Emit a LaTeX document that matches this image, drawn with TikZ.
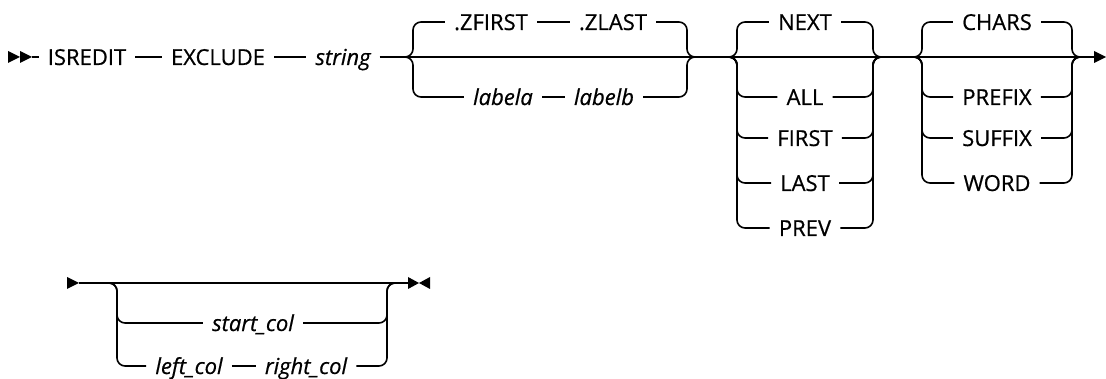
\documentclass[tikz,border=0pt]{standalone}
\usepackage{fontspec}
\newfontfamily\railfont[FakeBold=0.6]{Open Sans}
\tikzset{
  kw/.style={font=\railfont\fontsize{22}{26}\selectfont, inner xsep=9pt, inner ysep=0pt, text height=16pt, text depth=0pt},
  var/.style={kw, font=\railfont\itshape\fontsize{22}{26}\selectfont},
  rail/.style={line width=1.6pt, rounded corners=8pt}
}
\begin{document}
\begin{tikzpicture}[x=1pt,y=-1pt]
\useasboundingbox (0,0) rectangle (1106,379);
% first row
\foreach \x in {8,20}{\fill (\x,51) -- ++(12,6) -- ++(-12,6) -- cycle;}
\coordinate (r1in) at (32,57);
\coordinate (r1out) at (1094,57);
\fill (r1out) ++(0,-6) -- ++(12,6) -- ++(-12,6) -- cycle;
\node[kw] (isredit) at (87,57) {ISREDIT};
\node[kw] (exclude) at (218,57) {EXCLUDE};
\node[var] (string) at (343,57) {string};
\draw[rail] (r1in) -- (isredit) -- (exclude) -- (string) -- (r1out);
\coordinate (g1l) at (413,57);
\coordinate (g1r) at (687,57);
\node[kw] (zfirst) at (491,22) {.ZFIRST};
\node[kw] (zlast) at (613,22) {.ZLAST};
\node[var] (labela) at (503,97) {labela};
\node[var] (labelb) at (604,97) {labelb};
\draw[rail] (g1l) ++(-10,0) -- (g1l) |- (zfirst.west);
\draw[rail] (g1l) ++(-10,0) -- (g1l) |- (labela.west);
\draw[rail] (zfirst) -- (zlast);
\draw[rail] (labela) -- (labelb);
\draw[rail] (zlast.east) -| (g1r) -- ++(10,0);
\draw[rail] (labelb.east) -| (g1r) -- ++(10,0);
\coordinate (g2l) at (737,57);
\coordinate (g2r) at (873,57);
\node[kw] (next) at (805,22) {NEXT};
\node[kw] (all) at (805,97) {ALL};
\node[kw] (first) at (805,138) {FIRST};
\node[kw] (last) at (805,183) {LAST};
\node[kw] (prev) at (805,228) {PREV};
\foreach \n in {next,all,first,last,prev}{
  \draw[rail] (g2l) ++(-10,0) -- (g2l) |- (\n.west);
  \draw[rail] (\n.east) -| (g2r) -- ++(10,0);
}
\coordinate (g3l) at (922,57);
\coordinate (g3r) at (1072,57);
\node[kw] (chars) at (997,22) {CHARS};
\node[kw] (prefix) at (997,97) {PREFIX};
\node[kw] (suffix) at (997,138) {SUFFIX};
\node[kw] (word) at (997,183) {WORD};
\foreach \n in {chars,prefix,suffix,word}{
  \draw[rail] (g3l) ++(-10,0) -- (g3l) |- (\n.west);
  \draw[rail] (\n.east) -| (g3r) -- ++(10,0);
}
% second row
\coordinate (r2in) at (79,283);
\coordinate (r2out) at (408,283);
\fill (r2in) ++(-12,-6) -- ++(12,6) -- ++(-12,6) -- cycle;
\fill (r2out) ++(0,-6) -- ++(11,6) -- ++(-11,6) -- cycle;
\fill (r2out) ++(22,-6) -- ++(-11,6) -- ++(11,6) -- cycle;
\draw[rail] (r2in) -- (r2out);
\coordinate (g4l) at (117,283);
\coordinate (g4r) at (387,283);
\node[var] (startcol) at (253,323) {start\_col};
\node[var] (leftcol) at (189,366) {left\_col};
\node[var] (rightcol) at (306,366) {right\_col};
\draw[rail] (g4l) ++(-10,0) -- (g4l) |- (startcol.west);
\draw[rail] (g4l) ++(-10,0) -- (g4l) |- (leftcol.west);
\draw[rail] (leftcol) -- (rightcol);
\draw[rail] (startcol.east) -| (g4r) -- ++(10,0);
\draw[rail] (rightcol.east) -| (g4r) -- ++(10,0);
\end{tikzpicture}
\end{document}
